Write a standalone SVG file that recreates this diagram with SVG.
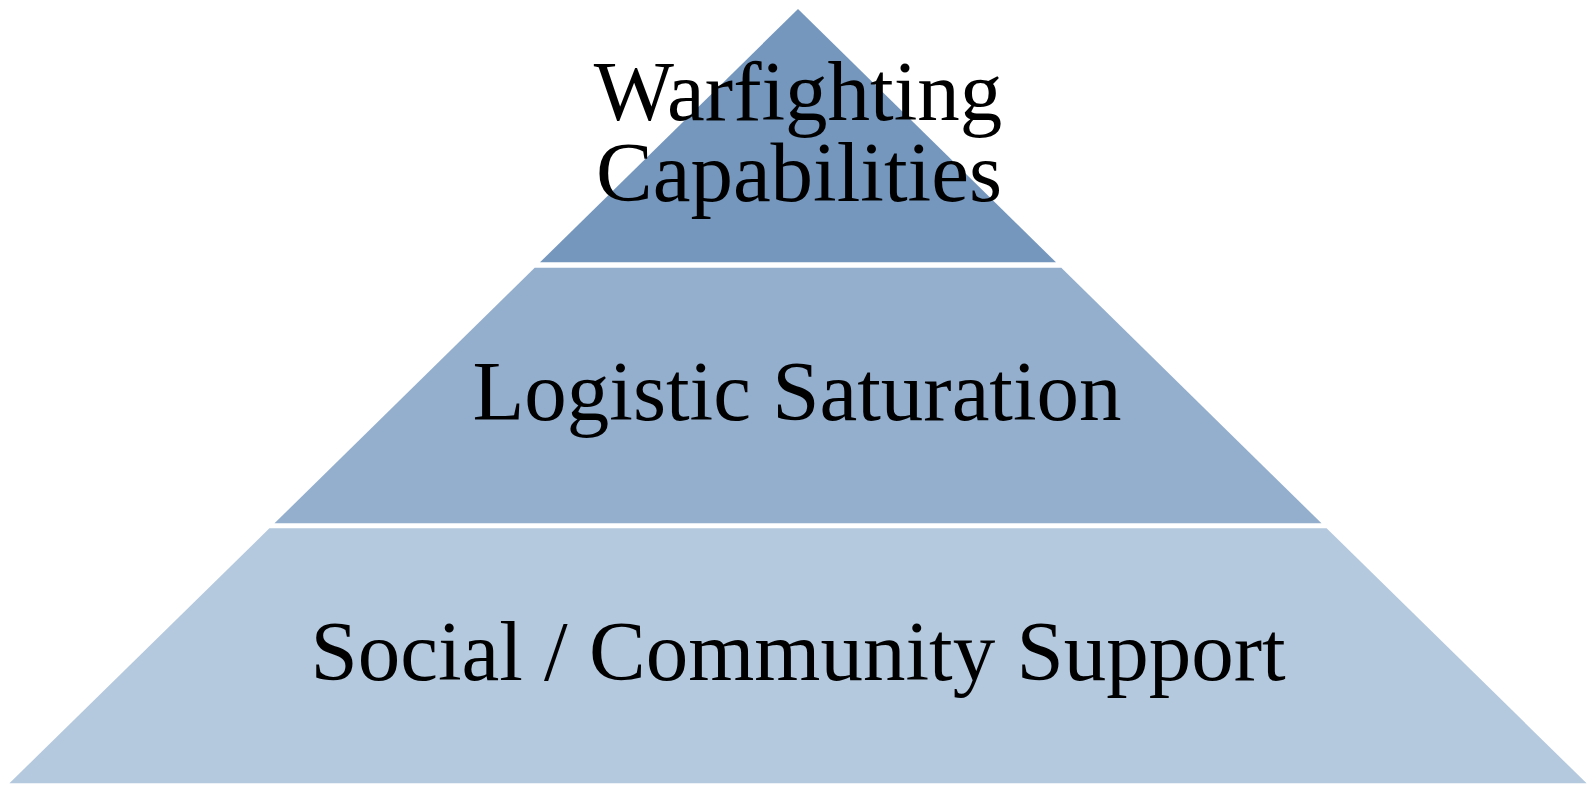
<svg xmlns="http://www.w3.org/2000/svg" width="1596" height="794" viewBox="0 0 1596 794">
<style>
.t{font-family:"Liberation Serif","Times New Roman",serif;font-size:85px;fill:#000;text-anchor:middle}
</style>
<rect width="1596" height="794" fill="#fff"/>
<g id="tier-top">
<polygon points="798,9 1056,262.3 540,262.3" fill="#7597bd"/>
<text class="t"><tspan x="798" y="120">Warfighting</tspan><tspan x="799" y="201">Capabilities</tspan></text>
</g>
<g id="tier-middle">
<polygon points="534.7,267.7 1061.3,267.7 1321.5,523.3 274.5,523.3" fill="#94afcd"/>
<text class="t" x="797" y="420">Logistic Saturation</text>
</g>
<g id="tier-bottom">
<polygon points="269.4,528.3 1326.6,528.3 1586.6,783.3 9.4,783.3" fill="#b4c8de"/>
<text class="t" x="798" y="680">Social / Community Support</text>
</g>
<g id="connectors"></g>
</svg>
